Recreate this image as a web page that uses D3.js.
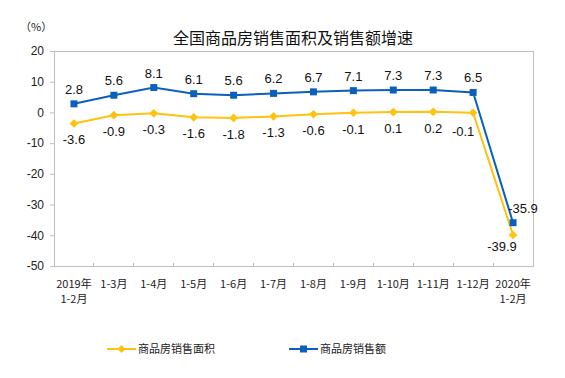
<!DOCTYPE html>
<html><head><meta charset="utf-8">
<script src="https://cdn.jsdelivr.net/npm/d3@7"></script>
<style>body{margin:0;background:#fff}svg{display:block}</style>
</head><body>
<svg id="c" width="565" height="378"></svg>
<script>
const categories = ["2019年\n1-2月","1-3月","1-4月","1-5月","1-6月","1-7月","1-8月","1-9月","1-10月","1-11月","1-12月","2020年\n1-2月"];
const areaGrowth = [-3.6,-0.9,-0.3,-1.6,-1.8,-1.3,-0.6,-0.1,0.1,0.2,-0.1,-39.9];
const salesGrowth = [2.8,5.6,8.1,6.1,5.6,6.2,6.7,7.1,7.3,7.3,6.5,-35.9];
const yTicks = [20,10,0,-10,-20,-30,-40,-50];
const seriesNames = ["商品房销售面积","商品房销售额"];
const title = "全国商品房销售面积及销售额增速";

const svg = d3.select("#c");
const L=54,R=533,T=51,B=266;
const x = d3.scaleBand().domain(d3.range(categories.length)).range([L,R]);
const y = d3.scaleLinear().domain([-50,20]).range([B,T]);
const cx = i => x(i)+x.bandwidth()/2;
const blue="#0D5FBE", yellow="#FFC20E";
const axisColor="#BFBFBF";
const latin="Arial, 'Liberation Sans', sans-serif";
const cjk="'Noto Sans CJK SC', sans-serif";

// frame
svg.append("rect").attr("x",L).attr("y",T).attr("width",R-L).attr("height",B-T)
  .attr("fill","none").attr("stroke",axisColor).attr("stroke-width",1).attr("shape-rendering","crispEdges");

// y axis
const ya = svg.append("g").attr("transform",`translate(${L},0)`)
  .call(d3.axisLeft(y).tickValues(yTicks).tickSize(4).tickPadding(6).tickFormat(d=>String(d)));
ya.select(".domain").attr("stroke",axisColor);
ya.selectAll(".tick line").attr("stroke",axisColor);
ya.selectAll("text").attr("font-family",latin).attr("font-size",12).attr("fill","#222");

// x axis
const xa = svg.append("g").attr("transform",`translate(0,${B})`)
  .call(d3.axisBottom(x).tickSize(0).tickFormat(()=>""));
xa.select(".domain").attr("stroke",axisColor);
svg.append("g").selectAll("line").data(d3.range(1,categories.length)).join("line")
  .attr("x1",i=>x(i)).attr("x2",i=>x(i)).attr("y1",B).attr("y2",B-3)
  .attr("stroke",axisColor).attr("shape-rendering","crispEdges");
const xl = svg.append("g").selectAll("text").data(categories).join("text")
  .attr("x",(d,i)=>cx(i)).attr("y",288).attr("text-anchor","middle")
  .attr("font-family",cjk).attr("font-size",11).attr("fill","#222");
xl.each(function(d){
  const parts=d.split("\n");
  const t=d3.select(this);
  parts.forEach((p,k)=>t.append("tspan").attr("x",t.attr("x")).attr("dy",k?15:0).text(p));
});

// title & unit
svg.append("text").attr("x",293).attr("y",44).attr("text-anchor","middle")
  .attr("font-family",cjk).attr("font-size",16).attr("fill","#111").text(title);
svg.append("text").attr("x",20).attr("y",31)
  .attr("font-family",cjk).attr("font-size",11).attr("fill","#222").text("（%）");

const line = d3.line().x((d,i)=>cx(i)).y(d=>y(d));
svg.append("path").datum(areaGrowth).attr("d",line).attr("fill","none").attr("stroke",yellow).attr("stroke-width",2);
svg.append("path").datum(salesGrowth).attr("d",line).attr("fill","none").attr("stroke",blue).attr("stroke-width",2);

svg.append("g").selectAll("path").data(areaGrowth).join("path")
  .attr("transform",(d,i)=>`translate(${cx(i)},${y(d)})`)
  .attr("d",d3.symbol(d3.symbolDiamond2,48)()).attr("fill",yellow);
svg.append("g").selectAll("rect").data(salesGrowth).join("rect")
  .attr("x",(d,i)=>cx(i)-3.5).attr("y",d=>y(d)-3.5).attr("width",7).attr("height",7).attr("fill",blue);

const n=categories.length;
svg.append("g").selectAll("text").data(salesGrowth).join("text")
  .attr("x",(d,i)=>i===n-1?cx(i)+10:cx(i))
  .attr("y",(d,i)=>y(d)-10)
  .attr("text-anchor","middle").attr("font-family",latin).attr("font-size",13).attr("fill","#111")
  .text(d=>d.toFixed(1));
svg.append("g").selectAll("text").data(areaGrowth).join("text")
  .attr("x",(d,i)=>i===n-1?cx(i)-11:(i===n-2?cx(i)-10:cx(i)))
  .attr("y",(d,i)=>i===n-1?y(d)+16:(i===n-2?y(d)+23:y(d)+21))
  .attr("text-anchor","middle").attr("font-family",latin).attr("font-size",13).attr("fill","#111")
  .text(d=>d.toFixed(1));

// legend
const lg = [{name:seriesNames[0],c:yellow,x:107,sym:"d"},{name:seriesNames[1],c:blue,x:289,sym:"s"}];
const lgY=349;
lg.forEach(e=>{
  const g=svg.append("g");
  g.append("line").attr("x1",e.x).attr("x2",e.x+29).attr("y1",lgY).attr("y2",lgY).attr("stroke",e.c).attr("stroke-width",2);
  if(e.sym==="d") g.append("path").attr("transform",`translate(${e.x+14.5},${lgY})`).attr("d",d3.symbol(d3.symbolDiamond2,40)()).attr("fill",e.c);
  else g.append("rect").attr("x",e.x+11).attr("y",lgY-3.5).attr("width",7).attr("height",7).attr("fill",e.c);
  g.append("text").attr("x",e.x+31).attr("y",lgY+4).attr("font-family",cjk).attr("font-size",11).attr("fill","#222").text(e.name);
});
</script>
</body></html>
